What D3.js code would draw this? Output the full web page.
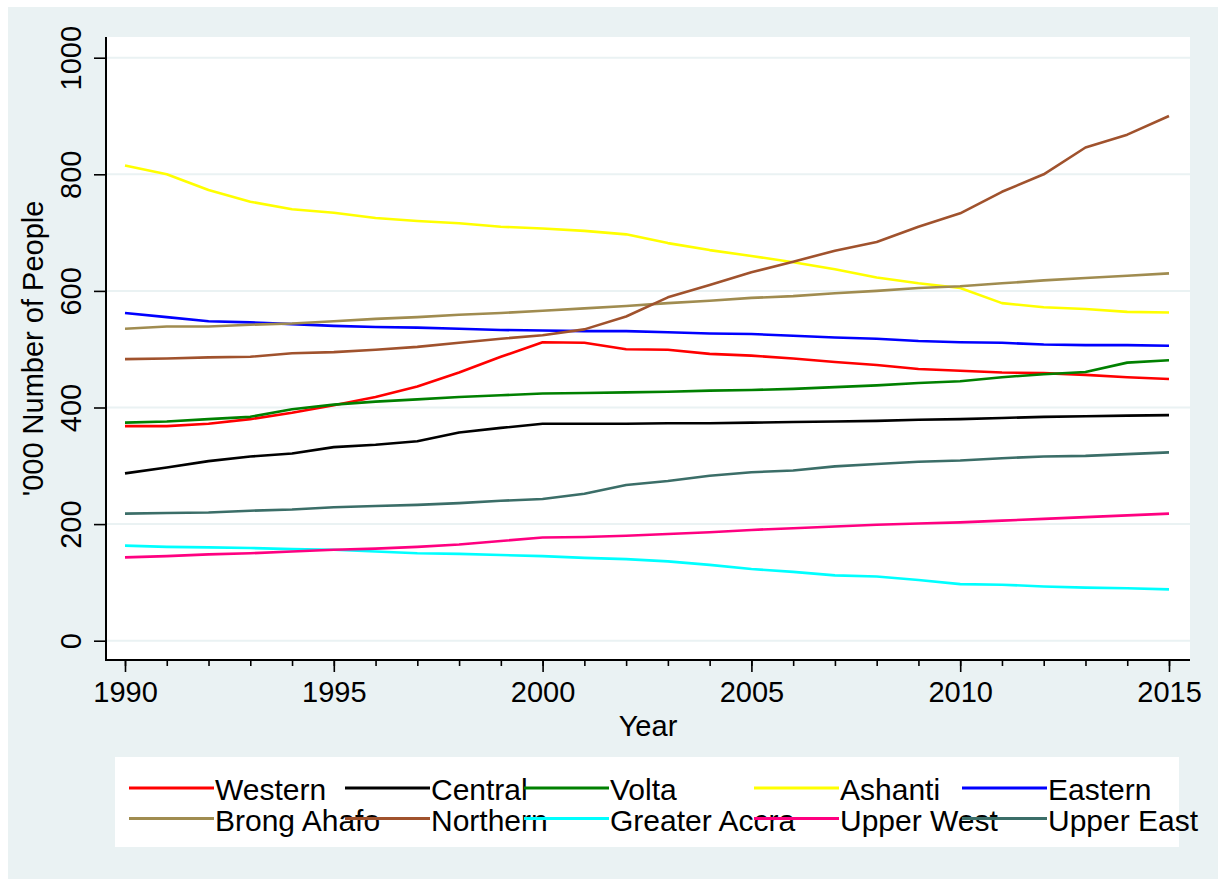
<!DOCTYPE html>
<html>
<head>
<meta charset="utf-8">
<script src="https://cdn.jsdelivr.net/npm/d3@7/dist/d3.min.js"></script>
<style>
  html, body { margin: 0; padding: 0; background: #ffffff; }
  svg { display: block; }
  text { font-family: "Liberation Sans", Arial, Helvetica, sans-serif; fill: #000; }
</style>
</head>
<body>
<svg id="chart" width="1218" height="879"></svg>
<script>
// Population by region, thousands of people, 1990-2015
const years = d3.range(1990, 2016);

const western      = [368, 368, 372, 380, 391, 404, 418, 436, 460, 487, 512, 511, 500, 499, 492, 489, 484, 478, 473, 466, 463, 460, 459, 456, 452, 449];
const central      = [287, 297, 308, 316, 321, 332, 336, 342, 357, 365, 372, 372, 372, 373, 373, 374, 375, 376, 377, 379, 380, 382, 384, 385, 386, 387];
const volta        = [374, 376, 380, 384, 397, 405, 410, 414, 418, 421, 424, 425, 426, 427, 429, 430, 432, 435, 438, 442, 445, 452, 457, 461, 477, 481];
const ashanti      = [815, 800, 773, 753, 740, 734, 725, 720, 716, 710, 707, 703, 697, 682, 670, 660, 649, 637, 623, 613, 605, 579, 572, 569, 564, 563];
const eastern      = [562, 555, 548, 546, 543, 540, 538, 537, 535, 533, 532, 531, 531, 529, 527, 526, 523, 520, 518, 514, 512, 511, 508, 507, 507, 506];
const brongAhafo   = [535, 539, 539, 542, 544, 548, 552, 555, 559, 562, 566, 570, 574, 579, 583, 588, 591, 596, 600, 605, 608, 613, 618, 622, 626, 630];
const northern     = [483, 484, 486, 487, 493, 495, 499, 504, 511, 518, 524, 534, 556, 589, 610, 632, 650, 669, 684, 710, 733, 770, 800, 846, 868, 900];
const greaterAccra = [163, 161, 160, 159, 157, 156, 153, 150, 149, 147, 145, 142, 140, 136, 130, 123, 118, 112, 110, 104, 97, 96, 93, 91, 90, 88];
const upperWest    = [143, 145, 148, 150, 153, 156, 158, 161, 165, 171, 177, 178, 180, 183, 186, 190, 193, 196, 199, 201, 203, 206, 209, 212, 215, 218];
const upperEast    = [218, 219, 220, 223, 225, 229, 231, 233, 236, 240, 243, 252, 267, 274, 283, 289, 292, 299, 303, 307, 309, 313, 316, 317, 320, 323];

const regionNames  = ["Western", "Central", "Volta", "Ashanti", "Eastern",
                      "Brong Ahafo", "Northern", "Greater Accra", "Upper West", "Upper East"];
const regionValues = [western, central, volta, ashanti, eastern,
                      brongAhafo, northern, greaterAccra, upperWest, upperEast];
const regionColors = ["#ff0000", "#000000", "#008000", "#ffff00", "#0000ff",
                      "#a08c50", "#a0522d", "#00ffff", "#ff0080", "#3b6e68"];

const yTicks = [0, 200, 400, 600, 800, 1000];
const xTicks = [1990, 1995, 2000, 2005, 2010, 2015];

const series = regionNames.map((name, i) => ({
  name,
  color: regionColors[i],
  points: years.map((yr, j) => ({ year: yr, value: regionValues[i][j] }))
}));

const svg = d3.select("#chart");

// graph background and white plot region
svg.append("rect").attr("x", 8).attr("y", 7).attr("width", 1210).attr("height", 872)
  .attr("fill", "#eaf2f3");
const plot = { left: 106, top: 37, right: 1190, bottom: 660 };
svg.append("rect").attr("x", plot.left).attr("y", plot.top)
  .attr("width", plot.right - plot.left).attr("height", plot.bottom - plot.top)
  .attr("fill", "#ffffff");

const x = d3.scaleLinear().domain([1990, 2015]).range([125, 1169]);
const y = d3.scaleLinear().domain([0, 1000]).range([640.7, 57.7]);

// horizontal grid
svg.append("g").selectAll("line").data(yTicks).join("line")
  .attr("x1", plot.left + 1).attr("x2", plot.right)
  .attr("y1", d => y(d)).attr("y2", d => y(d))
  .attr("stroke", "#eaf2f3").attr("stroke-width", 2);

// series lines
const line = d3.line().x(d => x(d.year)).y(d => y(d.value));
svg.append("g").selectAll("path").data(series).join("path")
  .attr("d", d => line(d.points))
  .attr("fill", "none")
  .attr("stroke", d => d.color)
  .attr("stroke-width", 2.6)
  .attr("stroke-linejoin", "round");

// y axis
const yAxis = svg.append("g").attr("transform", `translate(${plot.left},0)`)
  .call(d3.axisLeft(y).tickValues(yTicks).tickSize(12).tickPadding(0).tickFormat(d3.format("d")));
yAxis.select(".domain").remove();
yAxis.selectAll(".tick line").attr("stroke", "#000").attr("stroke-width", 1.6);
yAxis.selectAll(".tick text")
  .attr("font-size", 29)
  .attr("x", 0).attr("dy", 0)
  .attr("text-anchor", "middle")
  .attr("transform", "translate(-25,0) rotate(-90)")
  .style("font-family", "Liberation Sans, Arial, sans-serif");
svg.append("line").attr("x1", plot.left).attr("x2", plot.left)
  .attr("y1", plot.top).attr("y2", plot.bottom + 1)
  .attr("stroke", "#000").attr("stroke-width", 2);

// x axis: minor ticks every year, labelled majors every five
const xMinor = svg.append("g").attr("transform", `translate(0,${plot.bottom})`)
  .call(d3.axisBottom(x).tickValues(years).tickSize(6).tickFormat(""));
xMinor.select(".domain").remove();
xMinor.selectAll(".tick line").attr("stroke", "#000").attr("stroke-width", 1.6);

const xAxis = svg.append("g").attr("transform", `translate(0,${plot.bottom})`)
  .call(d3.axisBottom(x).tickValues(xTicks).tickSize(12).tickPadding(0).tickFormat(d3.format("d")));
xAxis.select(".domain").remove();
xAxis.selectAll(".tick line").attr("stroke", "#000").attr("stroke-width", 1.6);
xAxis.selectAll(".tick text")
  .attr("font-size", 29).attr("y", 42).attr("dy", 0)
  .style("font-family", "Liberation Sans, Arial, sans-serif");
svg.append("line").attr("x1", plot.left).attr("x2", plot.right)
  .attr("y1", plot.bottom).attr("y2", plot.bottom)
  .attr("stroke", "#000").attr("stroke-width", 2);

// axis titles
svg.append("text").attr("x", (plot.left + plot.right) / 2).attr("y", 736)
  .attr("text-anchor", "middle").attr("font-size", 29).text("Year");
svg.append("text")
  .attr("transform", `translate(43,${(plot.top + plot.bottom) / 2}) rotate(-90)`)
  .attr("text-anchor", "middle").attr("font-size", 29).text("'000 Number of People");

// legend
svg.append("rect").attr("x", 115).attr("y", 757).attr("width", 1064).attr("height", 90)
  .attr("fill", "#ffffff");
const colStarts = [129, 345, 524, 754, 962];
const rowKeys = [788, 818.5];
const keyLen = 85;
const legend = svg.append("g").selectAll("g").data(series).join("g")
  .attr("transform", (d, i) => `translate(${colStarts[i % 5]},${rowKeys[Math.floor(i / 5)]})`);
legend.append("line").attr("x1", 0).attr("x2", keyLen).attr("y1", 0).attr("y2", 0)
  .attr("stroke", d => d.color).attr("stroke-width", 3);
legend.append("text").attr("x", keyLen + 1).attr("y", 12)
  .attr("font-size", 30).text(d => d.name);
</script>
</body>
</html>
